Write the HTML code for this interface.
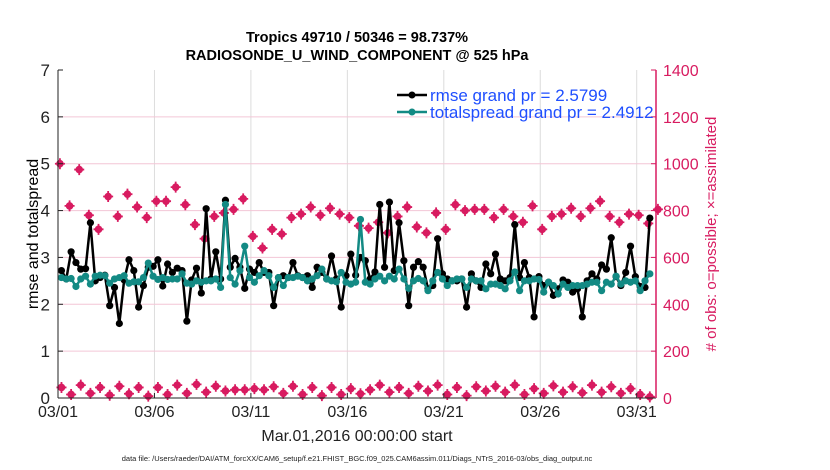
<!DOCTYPE html>
<html><head><meta charset="utf-8"><style>
html,body{margin:0;padding:0;background:#fff;}
svg{display:block;font-family:"Liberation Sans",sans-serif;}
</style></head><body>
<svg id="chart" width="830" height="470" viewBox="0 0 830 470" xmlns="http://www.w3.org/2000/svg">
<text x="357" y="42" text-anchor="middle" font-size="14.5" font-weight="bold">Tropics 49710 / 50346 = 98.737%</text>
<text x="357" y="60" text-anchor="middle" font-size="14.5" font-weight="bold">RADIOSONDE_U_WIND_COMPONENT @ 525 hPa</text>
<g id="grid"></g>
<g id="marks"></g>
<g id="axes"></g>
<text transform="translate(38,234) rotate(-90)" text-anchor="middle" font-size="16">rmse and totalspread</text>
<text transform="translate(716,234) rotate(-90)" text-anchor="middle" font-size="15" fill="#d81b60"># of obs: o=possible; ×=assimilated</text>
<text x="357" y="441" text-anchor="middle" font-size="16" fill="#222">Mar.01,2016 00:00:00 start</text>
<text x="357" y="461" text-anchor="middle" font-size="7.5" fill="#222">data file: /Users/raeder/DAI/ATM_forcXX/CAM6_setup/f.e21.FHIST_BGC.f09_025.CAM6assim.011/Diags_NTrS_2016-03/obs_diag_output.nc</text>
<g>
<line x1="397" y1="95" x2="427" y2="95" stroke="#000" stroke-width="2.5"/><circle cx="412" cy="95" r="3.5" fill="#000"/>
<text x="430" y="101" font-size="17" fill="#1f4fff">rmse grand pr = 2.5799</text>
<line x1="397" y1="112" x2="427" y2="112" stroke="#138a84" stroke-width="2.5"/><circle cx="412" cy="112" r="3.5" fill="#138a84"/>
<text x="430" y="118" font-size="17" fill="#1f4fff">totalspread grand pr = 2.4912</text>
</g>
</svg>
<script>
const rmse=[2.72,2.54,3.12,2.89,2.75,2.76,3.74,2.5,2.57,2.62,1.97,2.36,1.59,2.52,2.95,2.72,1.94,2.4,2.79,2.81,2.95,2.39,2.86,2.68,2.77,2.72,1.64,2.52,2.77,2.24,4.04,
2.54,3.12,2.54,4.22,2.79,2.98,2.79,2.34,2.75,2.68,2.89,2.68,2.68,1.97,2.57,2.61,2.57,2.89,2.61,2.57,2.61,2.36,2.79,2.68,2.54,3.03,2.54,1.94,2.61,3.07,
2.62,3.0,2.93,2.54,2.69,4.13,2.79,4.18,2.72,3.74,2.93,1.97,2.79,2.91,2.79,2.33,2.4,3.4,2.65,2.54,2.5,2.5,2.54,1.94,2.65,2.5,2.36,2.86,2.65,3.07,2.54,
2.5,2.57,3.7,2.57,2.89,2.57,1.73,2.59,2.4,2.47,2.19,2.33,2.52,2.47,2.26,2.33,1.73,2.5,2.65,2.54,2.84,2.75,3.42,2.59,2.4,2.68,3.24,2.59,2.38,2.36,3.84];
const spreadPix=[265,270,268,292,270,262,285,262,258,260,282,270,265,260,282,278,278,265,222,262,272,265,272,270,270,255,282,285,275,280,275,
275,270,295,45,265,285,245,170,265,280,260,245,260,295,265,290,265,265,262,265,275,270,260,240,270,275,278,250,280,285,
280,90,280,285,270,262,275,262,270,240,270,298,275,268,275,305,275,250,270,290,275,270,270,295,270,275,275,300,285,285,290,
300,275,248,305,275,275,270,272,310,280,290,315,285,295,290,290,290,285,280,280,305,280,285,262,285,275,280,275,305,275,255];
const spread=spreadPix.map(z=>+(4-(z-63)/141.7).toFixed(2));
const obsTop=[1000,820,975,780,720,860,775,870,815,770,840,840,900,825,740,680,775,790,805,850,690,640,720,700,770,785,815,780,810,785,
770,735,725,750,705,775,815,730,705,790,720,825,800,805,805,770,805,775,750,820,720,775,785,810,775,810,840,775,750,785,780,745,805];
const obsBottom=[45,15,55,20,45,12,50,18,45,8,45,15,55,20,58,25,50,30,35,35,40,35,48,20,50,15,45,10,45,15,40,18,35,55,25,45,20,50,30,55,15,45,10,48,30,50,25,55,15,40,20,52,25,48,22,55,25,48,20,40,15,5];
const xTicks=["03/01","03/06","03/11","03/16","03/21","03/26","03/31"];
const yTicksL=[0,1,2,3,4,5,6,7];
const yTicksR=[0,200,400,600,800,1000,1200,1400];

const L=58,R=656,T=70,B=398,DAYS=31;
const xDay=d=>L+(R-L)*d/DAYS;
const yL=v=>B-(B-T)*v/7;
const yR=v=>B-(B-T)*v/1400;
const NS='http://www.w3.org/2000/svg';
function mk(tag,parent,attrs){const e=document.createElementNS(NS,tag);for(const k in attrs)e.setAttribute(k,attrs[k]);parent.appendChild(e);return e;}
const grid=document.getElementById('grid'),marks=document.getElementById('marks'),axes=document.getElementById('axes');

xTicks.forEach((t,i)=>{const x=xDay(i*5);
 const g=mk('line',grid,{x1:x,x2:x,y1:T,y2:B,stroke:'#dcdcdc','stroke-width':1});
 
 
 const tk=mk('line',axes,{x1:x,x2:x,y1:B,y2:B-5,stroke:'#222'});
 
 
 const tx=mk('text',axes,{x:x,y:B+19,'text-anchor':'middle','font-size':16,fill:'#222'});tx.textContent=t;
 
 
});
yTicksR.forEach(v=>{const y=yR(v);
 if(v>0&&v<1400){const g=mk('line',grid,{x1:L,x2:R,y1:y,y2:y,stroke:'#f3c6d6','stroke-width':1});
 
 }
 const tk=mk('line',axes,{x1:R,x2:R-5,y1:y,y2:y,stroke:'#d81b60'});
 
 
 const tx=mk('text',axes,{x:R+7,y:y+6,'font-size':16,fill:'#d81b60'});tx.textContent=v;
 
 
});
yTicksL.forEach(v=>{const y=yL(v);
 const tk=mk('line',axes,{x1:L,x2:L+5,y1:y,y2:y,stroke:'#222'});
 
 
 const tx=mk('text',axes,{x:L-8,y:y+6,'text-anchor':'end','font-size':17,fill:'#222'});tx.textContent=v;
 
 
});
const ax1=mk('line',axes,{x1:L,x2:L,y1:T,y2:B,stroke:'#222'});


const ax2=mk('line',axes,{x1:L,x2:R,y1:B,y2:B,stroke:'#222'});


const ax3=mk('line',axes,{x1:R,x2:R,y1:T,y2:B,stroke:'#d81b60','stroke-width':1.5});



function obsMarker(x,y){
 const g=mk('g',marks,{});
 
 
 mk('circle',g,{cx:x,cy:y,r:3.8,fill:'#d81b60'});
 mk('path',g,{d:`M${x-5} ${y}H${x+5}M${x} ${y-5.5}V${y+5.5}`,stroke:'#d81b60','stroke-width':1.8});
}
obsTop.forEach((v,k)=>obsMarker(xDay(0.1+0.5*k),yR(v)));
obsBottom.forEach((v,k)=>obsMarker(xDay(0.18+0.5*k),yR(v)));

function series(vals,color,name){
 const tx=i=>xDay(0.18+0.25*i);
 const p=mk('polyline',marks,{points:vals.map((v,i)=>tx(i)+','+yL(v)).join(' '),fill:'none',stroke:color,'stroke-width':2.5,'stroke-linejoin':'round'});
 
 
 vals.forEach((v,i)=>{const c=mk('circle',marks,{cx:tx(i),cy:yL(v),r:3.6,fill:color});
 
 });
}
series(rmse,'#000','rmse');
series(spread,'#138a84','totalspread');
</script>
</body></html>
